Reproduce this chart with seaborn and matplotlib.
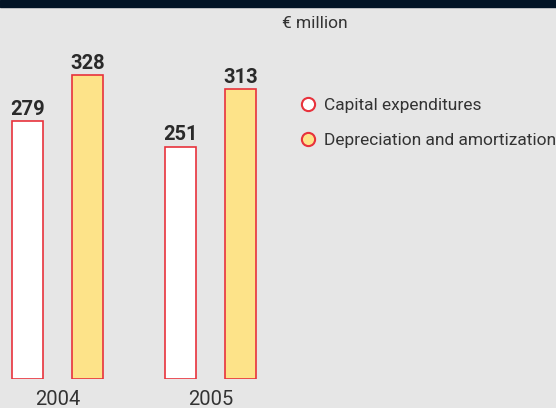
import pandas as pd
import matplotlib
matplotlib.use('Agg')
import matplotlib.pyplot as plt
from matplotlib.lines import Line2D
from matplotlib.patches import Rectangle
import seaborn as sns

# data
years = ['2004', '2005']
series = ['Capital expenditures', 'Depreciation and amortization']
capex = [279, 251]
depreciation = [328, 313]
unit_label = '€ million'

BG = '#e6e6e6'
NAVY = '#021426'
RED = '#e8323c'
FILLS = ['#ffffff', '#fde389']

sns.set_theme(style='white')
plt.rcParams['font.family'] = ['Roboto', 'DejaVu Sans']

df = pd.DataFrame({
    'Year': years * 2,
    'Series': [series[0]] * len(years) + [series[1]] * len(years),
    'Value': capex + depreciation,
})

W, H = 556, 408
fig = plt.figure(figsize=(W / 100, H / 100), dpi=100, facecolor=BG)
ax = fig.add_axes([0, 29 / H, 1, 379 / H])
ax.set_facecolor(BG)

sns.barplot(data=df, x='Year', y='Value', hue='Series', palette=FILLS,
            saturation=1, width=0.784, gap=0.48, errorbar=None,
            edgecolor=RED, linewidth=1.2, legend=False, ax=ax)

for c in ax.containers:
    ax.bar_label(c, padding=1.5, fontsize=14.5, fontweight='bold', color='#2a2a2a')

ax.set_xlim(-57.5 / 153, (W - 57.5) / 153)
ax.set_ylim(0, 379 / 0.926)
ax.set_xlabel('')
ax.set_ylabel('')
ax.set_yticks([])
ax.tick_params(axis='x', length=0, pad=8, labelsize=14.5, labelcolor='#333333')
for s in ax.spines.values():
    s.set_visible(False)

# dark strip at top
fig.patches.append(Rectangle((0, 1 - 7 / H), 1, 7 / H, transform=fig.transFigure,
                             color=NAVY, zorder=5))

fig.text(282 / W, 1 - 23 / H, unit_label, fontsize=12.5, color='#333333', va='center')

handles = [Line2D([], [], ls='', marker='o', markersize=9.5, markerfacecolor=f,
                  markeredgecolor=RED, markeredgewidth=1.5) for f in FILLS]
fig.legend(handles, series, loc='upper left', bbox_to_anchor=(301 / W, 1 - 98 / H),
           frameon=False, fontsize=12.5, handlelength=0.8, handletextpad=0.5,
           labelspacing=1.15, borderpad=0, borderaxespad=0, labelcolor='#333333')

plt.savefig('out.png', dpi=100, facecolor=BG)
